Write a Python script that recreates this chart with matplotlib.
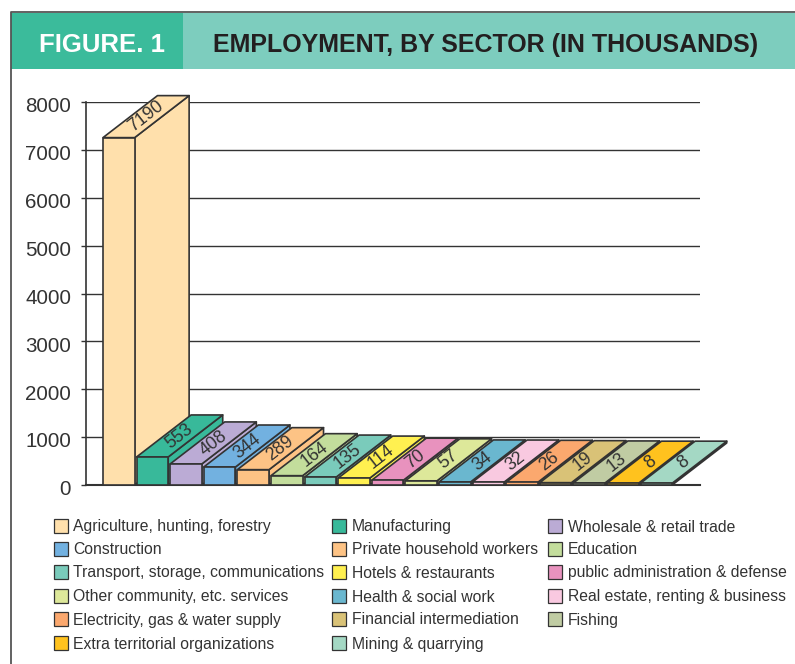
import matplotlib
matplotlib.use('Agg')
import matplotlib.pyplot as plt
from matplotlib.patches import Polygon, Rectangle
from matplotlib.transforms import Affine2D, ScaledTranslation

# Employment figures, in thousands
sectors = ['Agriculture, hunting, forestry', 'Manufacturing', 'Wholesale & retail trade',
           'Construction', 'Private household workers', 'Education',
           'Transport, storage, communications', 'Hotels & restaurants', 'public administration & defense',
           'Other community, etc. services', 'Health & social work', 'Real estate, renting & business',
           'Electricity, gas & water supply', 'Financial intermediation', 'Fishing',
           'Extra territorial organizations', 'Mining & quarrying']
values = [7190, 553, 408, 344, 289, 164, 135, 114, 70, 57, 34, 32, 26, 19, 13, 8, 8]
colors = ['#FFE0AC', '#38B99A', '#BBABD5', '#72B1E0', '#FDC385', '#C3DD9C',
          '#7ACBBB', '#FFF050', '#E892BE', '#DDE89A', '#6AB7CF', '#F9C9E0',
          '#FBA86E', '#D9C277', '#C0CCA3', '#FFC21E', '#A4D8C4']
yticks = [0, 1000, 2000, 3000, 4000, 5000, 6000, 7000, 8000]

W, H = 795, 664
EDGE = '#333333'
TEXT = '#333333'

plt.rcParams['font.family'] = 'Liberation Sans'

fig = plt.figure(figsize=(W / 100, H / 100), dpi=100)

# Transform for page furniture: pixels from the top left corner
page = Affine2D().scale(1 / W, -1 / H).translate(0, 1) + fig.transFigure

# Header band and frame
fig.add_artist(Rectangle((11, 13), 172, 56, transform=page, fc='#3BBB9B', ec='none'))
fig.add_artist(Rectangle((183, 13), W - 183, 56, transform=page, fc='#7DCDBE', ec='none'))
fig.add_artist(plt.Line2D([W, 10.5, 10.5], [12, 12, H], transform=page, color='#555555', lw=1.3))
fig.text(102, 52, 'FIGURE. 1', transform=page, color='white', fontsize=18.5,
         fontweight='bold', ha='center', va='baseline')
fig.text(485.5, 52, 'EMPLOYMENT, BY SECTOR (IN THOUSANDS)', transform=page, color='#231F20',
         fontsize=18, fontweight='bold', ha='center', va='baseline')

# Plot area: y runs 0-8000 over pixels 485-102, x is the bar index
left_px, right_px, bottom_px, top_px = 86, 700, 485, 102
pitch = 33.6
first_center = 118.8
ax = fig.add_axes([left_px / W, 1 - bottom_px / H, (right_px - left_px) / W, (bottom_px - top_px) / H])
ax.set_xlim((left_px - first_center) / pitch, (right_px - first_center) / pitch)
ax.set_ylim(0, 8000)
ax.set_yticks(yticks)
ax.set_xticks([])
ax.tick_params(axis='y', length=3.8, width=1, color=EDGE, labelsize=14.8, labelcolor=TEXT, pad=7)
ax.yaxis.grid(True, color=EDGE, lw=1)
ax.set_axisbelow(True)
for side in ['top', 'right']:
    ax.spines[side].set_visible(False)
ax.spines['left'].set_color(EDGE)
ax.spines['left'].set_linewidth(1.2)
ax.spines['bottom'].set_color(EDGE)
ax.spines['bottom'].set_linewidth(1.5)

# Tick labels sit a little under their ticks
nudge = ScaledTranslation(0, -2 / 72, fig.dpi_scale_trans)
for lab in ax.get_yticklabels():
    lab.set_transform(lab.get_transform() + nudge)

half = 0.471
depth_x = 54.5 / pitch
depth_y = 42 * 8000 / (bottom_px - top_px)
front_scale = 1.005  # front plane sits closer to the viewer
slab = 30  # base thickness under every bar

# Bars left to right, so each one covers the side face of the previous
for i, (val, col) in enumerate(zip(values, colors)):
    h = val * front_scale + slab
    x0, x1 = i - half, i + half
    front = [(x0, 0), (x1, 0), (x1, h), (x0, h)]
    top = [(x0, h), (x1, h), (x1 + depth_x, h + depth_y), (x0 + depth_x, h + depth_y)]
    right = [(x1, 0), (x1 + depth_x, depth_y), (x1 + depth_x, h + depth_y), (x1, h)]
    for face in (right, top, front):
        ax.add_patch(Polygon(face, closed=True, fc=col, ec=EDGE, lw=1.2, joinstyle='round',
                             clip_on=False, zorder=3 + i * 0.1))
    ax.text(i + depth_x / 2, h + depth_y / 2, str(val), rotation=38, rotation_mode='anchor',
            ha='center', va='center', fontsize=12.8, color=TEXT, zorder=3.05 + i * 0.1)

# Legend laid out by hand in three columns
swatch_x = [54, 331.5, 548]
label_x = [73, 352, 568]
row_y = [526, 549, 572, 596, 619, 643]
for n, (name, col) in enumerate(zip(sectors, colors)):
    r, c = divmod(n, 3)
    y = row_y[r]
    fig.add_artist(Rectangle((swatch_x[c], y - 7), 14, 14, transform=page, fc=col, ec=EDGE, lw=0.9))
    fig.text(label_x[c], y + 5.5, name, transform=page, fontsize=11.3, color=TEXT, ha='left', va='baseline')

fig.savefig('out.png', dpi=100)
